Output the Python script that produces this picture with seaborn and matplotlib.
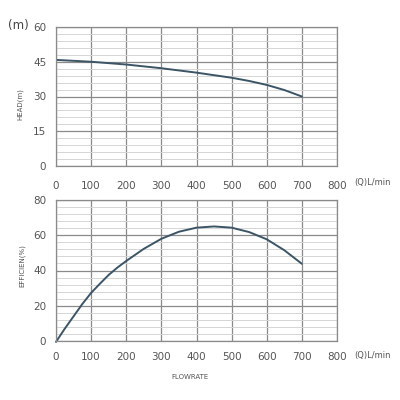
import matplotlib
matplotlib.use("Agg")
import matplotlib.pyplot as plt
import seaborn as sns
import numpy as np
import pandas as pd
from matplotlib.ticker import MultipleLocator

flow_head = [0, 100, 200, 300, 400, 500, 550, 600, 650, 700]
head = [45.8, 45.0, 43.8, 42.2, 40.3, 38.1, 36.7, 35.0, 32.8, 30.0]

flow_eff = [0, 25, 50, 75, 100, 125, 150, 175, 200, 250, 300, 350, 400, 450, 500, 550, 600, 650, 700]
eff = [-0.5, 7, 14, 21, 27.3, 32.5, 37.5, 41.7, 45.4, 52.3, 58, 62, 64.3, 65, 64.3, 61.8, 57.7, 51.5, 43.8]

x_ticks = [0, 100, 200, 300, 400, 500, 600, 700, 800]
head_ticks = [0, 15, 30, 45, 60]
eff_ticks = [0, 20, 40, 60, 80]

sns.set_theme(style="white")
plt.rcParams['font.family'] = ['DejaVu Sans']

fig = plt.figure(figsize=(4, 4), dpi=100)
ax1 = fig.add_axes([0.14, 0.585, 0.7025, 0.3475])
ax2 = fig.add_axes([0.14, 0.1475, 0.7025, 0.3525])

line_color = "#3b5566"
text_color = "#555555"

df_h = pd.DataFrame({"flow": flow_head, "head": head})
df_e = pd.DataFrame({"flow": flow_eff, "eff": eff})

sns.lineplot(data=df_h, x="flow", y="head", ax=ax1, color=line_color, lw=1.4)
sns.lineplot(data=df_e, x="flow", y="eff", ax=ax2, color=line_color, lw=1.4, clip_on=False)

for ax, yt, minor, xpad in [(ax1, head_ticks, 3, 6.5), (ax2, eff_ticks, 4, 4)]:
    ax.set_xlim(0, 800)
    ax.set_ylim(yt[0], yt[-1])
    ax.set_xticks(x_ticks)
    ax.set_yticks(yt)
    ax.yaxis.set_minor_locator(MultipleLocator(minor))
    ax.grid(which="major", color="#8a8a8a", lw=0.9)
    ax.grid(which="minor", axis="y", color="#d5d5d5", lw=0.7)
    ax.set_axisbelow(True)
    for s in ax.spines.values():
        s.set_color("#8a8a8a")
        s.set_linewidth(0.9)
    ax.tick_params(which="major", direction="out", length=4, width=0.9, color="#8a8a8a",
                   labelsize=7.5, labelcolor=text_color, pad=3)
    ax.tick_params(axis="x", which="major", pad=xpad)
    ax.tick_params(which="minor", length=0)
    ax.set_xlabel("")
    ax.set_ylabel("")

fig.text(0.02, 0.935, "(m)", fontsize=8.5, color="#444444", ha="left", va="center")
fig.text(0.05, 0.74, "HEAD(m)", fontsize=5, color=text_color, rotation=90, ha="center", va="center")
fig.text(0.055, 0.335, "EFFICIEN(%)", fontsize=5, color=text_color, rotation=90, ha="center", va="center")
fig.text(0.885, 0.5425, "(Q)L/min", fontsize=6, color=text_color, ha="left", va="center")
fig.text(0.885, 0.112, "(Q)L/min", fontsize=6, color=text_color, ha="left", va="center")
fig.text(0.475, 0.0575, "FLOWRATE", fontsize=5, color=text_color, ha="center", va="center")

fig.savefig("out.png", dpi=100, facecolor="white")
